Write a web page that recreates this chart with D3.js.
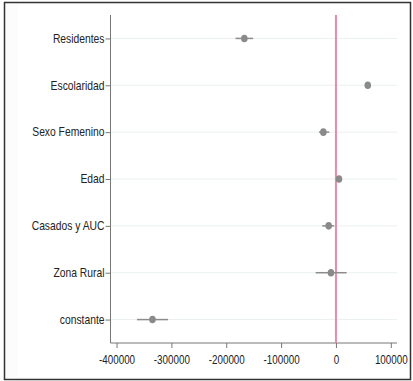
<!DOCTYPE html>
<html><head><meta charset="utf-8">
<script src="https://cdn.jsdelivr.net/npm/d3@7"></script>
<style>body{margin:0;background:#fff}svg{display:block}</style>
</head><body>
<script>
const categories = ["Residentes","Escolaridad","Sexo Femenino","Edad","Casados y AUC","Zona Rural","constante"];
const estimates = [-167000, 58000, -23000, 5500, -13300, -9100, -334500];
const lower = [-183000, 56000, -31000, 3500, -25000, -37000, -362600];
const upper = [-151000, 60000, -12200, 7500, -3100, 19500, -306000];
const xTicks = [-400000,-300000,-200000,-100000,0,100000];

const W=413,H=381;
const svg=d3.select("body").append("svg").attr("width",W).attr("height",H);
const font="'Liberation Sans',Arial,sans-serif";

svg.append("rect").attr("x",4.5).attr("y",2.5).attr("width",406).attr("height",377)
  .attr("fill","#fcfcfc").attr("stroke","#333").attr("stroke-width",1.5);
svg.append("rect").attr("x",18).attr("y",5).attr("width",391).attr("height",372)
  .attr("fill","#fff");

const L=110.5,R=397,T=15,B=343;
const x=d3.scaleLinear().domain([-411000,111300]).range([L,R]);
const y=d3.scalePoint().domain(categories).range([T,B]).padding(0.5);

// horizontally condense text around its own x anchor
function narrow(sel, k){
  sel.each(function(){
    const ax=+d3.select(this).attr("x")||0;
    d3.select(this).attr("transform",`translate(${ax*(1-k)},0) scale(${k},1)`);
  });
}

// gridlines
svg.append("g").selectAll("line").data(categories).join("line")
  .attr("x1",L).attr("x2",R).attr("y1",d=>y(d)).attr("y2",d=>y(d))
  .attr("stroke","#eaf0f0").attr("stroke-width",1);

// axes
const gy=svg.append("g").attr("transform",`translate(${L},0)`)
  .call(d3.axisLeft(y).tickSize(5).tickPadding(1));
gy.select(".domain").attr("d",`M0,${T}V${B}`).attr("stroke","#777");
gy.selectAll(".tick line").attr("stroke","#777");
gy.selectAll("text").attr("font-family",font).attr("font-size",12).attr("fill","#222").call(narrow,0.86);

const gx=svg.append("g").attr("transform",`translate(0,${B})`)
  .call(d3.axisBottom(x).tickValues(xTicks).tickFormat(d=>String(d)).tickSize(5).tickPadding(7));
gx.select(".domain").attr("d",`M${L},0H${R}`).attr("stroke","#777");
gx.selectAll(".tick line").attr("stroke","#777");
gx.selectAll("text").attr("font-family",font).attr("font-size",12).attr("fill","#222").call(narrow,0.82);

// reference line
svg.append("line").attr("x1",x(0)).attr("x2",x(0)).attr("y1",T).attr("y2",B)
  .attr("stroke","#e88aa8").attr("stroke-width",2);

// CIs
svg.append("g").selectAll("line").data(categories).join("line")
  .attr("x1",(d,i)=>x(lower[i])).attr("x2",(d,i)=>x(upper[i]))
  .attr("y1",d=>y(d)).attr("y2",d=>y(d))
  .attr("stroke","#8c8c8c").attr("stroke-width",1.5);
// points
svg.append("g").selectAll("ellipse").data(categories).join("ellipse")
  .attr("cx",(d,i)=>x(estimates[i])).attr("cy",d=>y(d)).attr("rx",3.3).attr("ry",3.8)
  .attr("fill","#8a8a8a");
</script>
</body></html>
